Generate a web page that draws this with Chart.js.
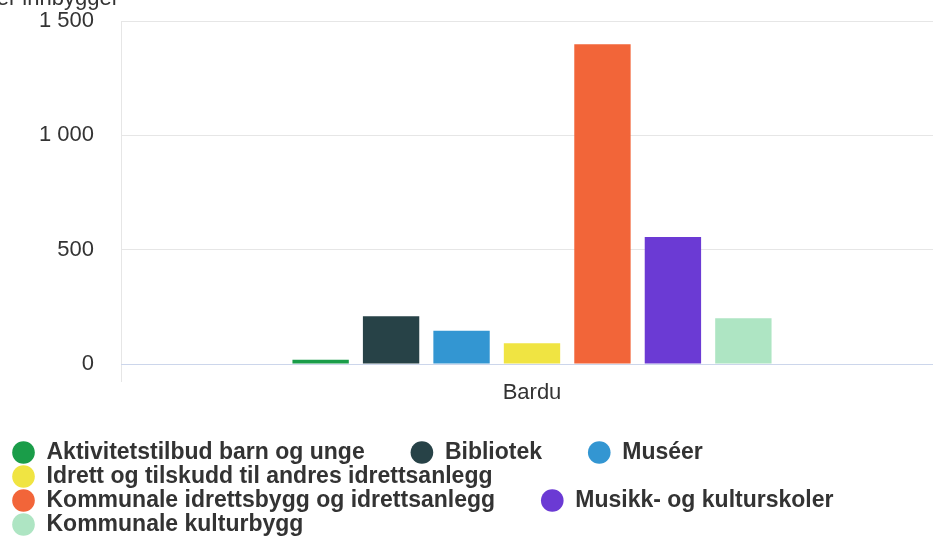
<!DOCTYPE html>
<html>
<head>
<meta charset="utf-8">
<script src="https://cdn.jsdelivr.net/npm/chart.js@4/dist/chart.umd.min.js"></script>
<style>
  html, body { margin: 0; padding: 0; background: #fff; overflow: hidden; }
  #wrap { width: 933px; height: 544px; overflow: hidden; }
  #box { width: 943px; height: 546px; }
</style>
</head>
<body>
<div id="wrap"><div id="box"><canvas id="myChart"></canvas></div></div>
<script>
// data
const categories = ["Bardu"];
const seriesNames = [
  "Aktivitetstilbud barn og unge",
  "Bibliotek",
  "Muséer",
  "Idrett og tilskudd til andres idrettsanlegg",
  "Kommunale idrettsbygg og idrettsanlegg",
  "Musikk- og kulturskoler",
  "Kommunale kulturbygg"
];
const seriesValues = [19, 209, 145, 91, 1398, 555, 200];
const seriesColors = ["#1a9d49", "#274247", "#3396d2", "#f0e442", "#f26539", "#6b3ad4", "#aee5c3"];
const yTicks = [0, 500, 1000, 1500];
const yTitle = "Kr per innbygger";

const FONT = "'Liberation Sans', Arial, sans-serif";

function fmt(v) {
  return String(v).replace(/\B(?=(\d{3})+(?!\d))/g, " ");
}

// y axis title, horizontal above the axis (cut off at the left edge)
const yTitlePlugin = {
  id: 'yTitle',
  afterDraw(chart) {
    const ctx = chart.ctx;
    ctx.save();
    ctx.font = "22px " + FONT;
    ctx.fillStyle = "#333";
    ctx.textAlign = "right";
    ctx.textBaseline = "alphabetic";
    ctx.fillText(yTitle, chart.chartArea.left - 2, 5);
    ctx.restore();
  }
};

const datasets = seriesNames.map((name, i) => ({
  label: name,
  data: [seriesValues[i]],
  backgroundColor: seriesColors[i],
  borderWidth: 0,
  categoryPercentage: 0.6,
  barPercentage: 0.8
}));

let ctx = document.getElementById('myChart').getContext('2d');
let myChart = new Chart(ctx, {
  type: 'bar',
  data: { labels: categories, datasets: datasets },
  plugins: [yTitlePlugin],
  options: {
    responsive: true,
    maintainAspectRatio: false,
    animation: false,
    layout: { padding: { left: 11, top: 21, right: 0, bottom: 0 } },
    plugins: {
      tooltip: { enabled: false },
      legend: {
        position: 'bottom',
        align: 'start',
        labels: {
          usePointStyle: true,
          pointStyle: 'circle',
          boxWidth: 23,
          boxHeight: 16,
          padding: 1,
          color: '#333',
          font: { family: FONT, size: 23, weight: 'bold' },
          // extra trailing spaces give the wide horizontal gap between items
          generateLabels(chart) {
            const items = Chart.defaults.plugins.legend.labels.generateLabels(chart);
            items.forEach(it => { it.text = it.text + "       "; it.lineWidth = 0; });
            return items;
          }
        }
      }
    },
    scales: {
      x: {
        offset: true,
        grid: {
          offset: true,
          color: '#e6e6e6',
          tickColor: '#e6e6e6',
          tickLength: 18,
          drawTicks: true
        },
        border: { color: '#ccd6eb', width: 1 },
        ticks: { color: '#333', padding: -2, font: { family: FONT, size: 22 } },
        afterFit(scale) { scale.height = 76; }
      },
      y: {
        min: 0,
        max: 1500,
        afterBuildTicks(scale) { scale.ticks = yTicks.map(v => ({ value: v })); },
        grid: {
          color: (c) => c.tick && c.tick.value === 0 ? '#ccd6eb' : '#e6e6e6',
          drawTicks: false
        },
        border: { display: false },
        ticks: {
          color: '#333',
          padding: 27,
          font: { family: FONT, size: 22 },
          callback: (v) => fmt(v)
        },
        afterFit(scale) {
          scale.width = 110;
          scale.paddingTop = 0;
          scale.paddingBottom = 0;
        }
      }
    }
  }
});
</script>
</body>
</html>
